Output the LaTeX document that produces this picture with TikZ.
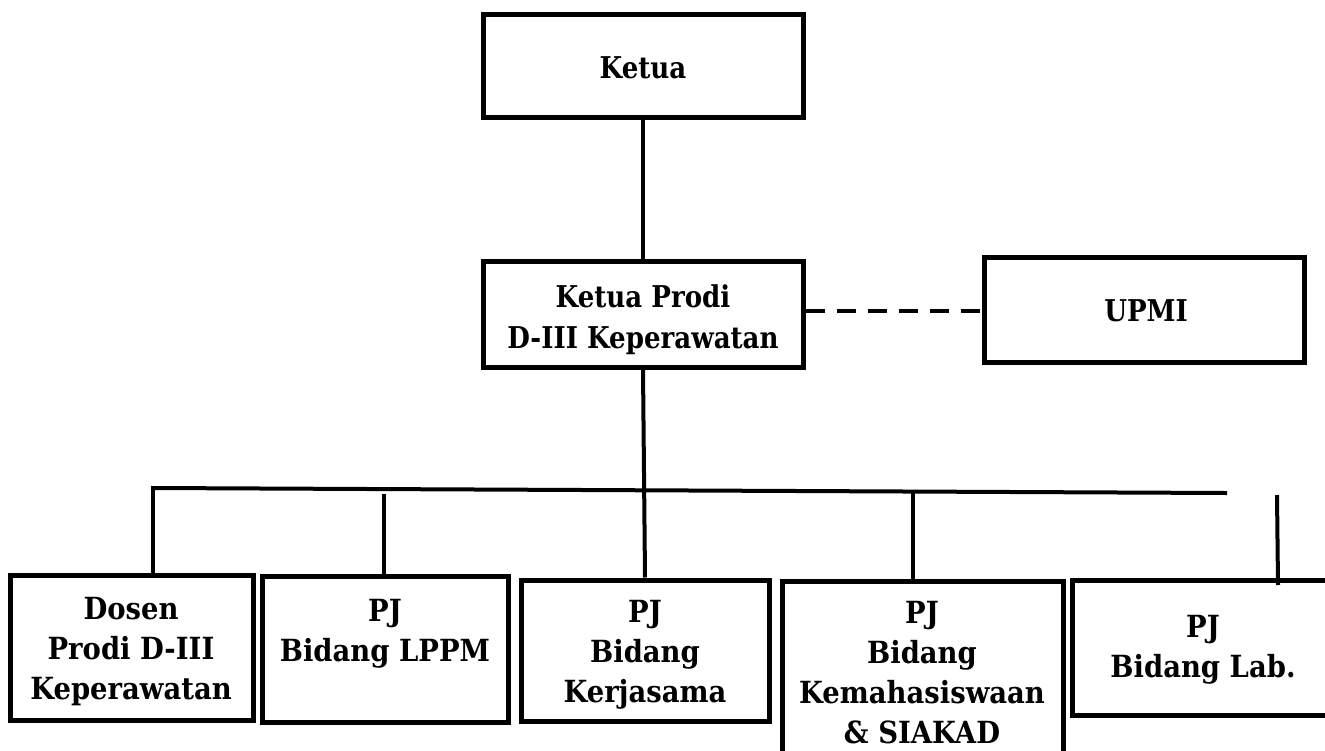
\documentclass[tikz,border=0pt]{standalone}
\usepackage{fontspec}
\setmainfont{DejaVu Serif}[FakeStretch=0.87]
\newfontfamily\widefont{DejaVu Serif}[FakeStretch=0.9]
\newcommand\stk[1]{\vtop{\baselineskip=40pt\lineskiplimit=-100pt\halign{\hfil##\hfil\cr#1\crcr}}}
\tikzset{
  box/.style={draw=black, line width=5pt, rectangle, inner sep=0pt},
  txt/.style={anchor=base, inner sep=0pt, font=\fontsize{30}{40}\selectfont\bfseries},
  btxt/.style={anchor=base, inner sep=0pt, font=\widefont\fontsize{30.5}{40}\selectfont\bfseries},
  conn/.style={draw=black, line width=4pt},
  dconn/.style={draw=black, line width=4pt, dash pattern=on 19pt off 12pt}
}
\begin{document}
\begin{tikzpicture}[x=1pt,y=-1pt]
\clip (0,0) rectangle (1325,751);
\fill[white] (0,0) rectangle (1325,751);
% boxes
\node[box, minimum width=320pt, minimum height=103pt] (ketua) at (643,66.5) {};
\node[box, minimum width=320pt, minimum height=105pt] (prodi) at (643,314.5) {};
\node[box, minimum width=320pt, minimum height=104pt] (upmi) at (1144,310) {};
\node[box, minimum width=243pt, minimum height=145pt] (dosen) at (131.5,647.5) {};
\node[box, minimum width=246pt, minimum height=146pt] (lppm) at (385,649) {};
\node[box, minimum width=248pt, minimum height=141pt] (kerja) at (645,650.5) {};
\node[box, minimum width=281pt, minimum height=220pt] (mhs) at (922.5,691) {};
\node[box, minimum width=280pt, minimum height=135pt] (lab) at (1212,647.5) {};
% texts
\node[txt] (ketua-t) at (643,79) {Ketua};
\node[txt] (prodi-t) at (643,308) {\stk{Ketua Prodi\cr D-III Keperawatan}};
\node[txt] (upmi-t) at (1146,322) {UPMI};
\node[btxt] (dosen-t) at (131,619) {\stk{Dosen\cr Prodi D-III\cr Keperawatan}};
\node[btxt] (lppm-t) at (385,621) {\stk{PJ\cr Bidang LPPM}};
\node[btxt] (kerja-t) at (645,622) {\stk{PJ\cr Bidang\cr Kerjasama}};
\node[btxt] (mhs-t) at (922,623) {\stk{PJ\cr Bidang\cr Kemahasiswaan\cr \& SIAKAD}};
\node[btxt] (lab-t) at (1203,637) {\stk{PJ\cr Bidang Lab.}};
% connector coordinates
\coordinate (hL) at (153,488);
\coordinate (hR) at (1225,493);
\coordinate (hM) at (913,492);
\coordinate (lppmTop) at (384,494);
\coordinate (labTop) at (1277,495);
\coordinate (labEnd) at (1278,585);
% connectors
\draw[conn] (ketua.south) -- (prodi.north);
\draw[conn] (prodi.south) -- (kerja.north);
\draw[dconn] ([yshift=3.5pt]prodi.east) -- ([yshift=3.5pt]prodi.east -| upmi.west);
\draw[conn, line cap=rect] (hL) -- (hR);
\draw[conn] (hL) -- (dosen.north -| hL);
\draw[conn] (lppmTop) -- (lppm.north -| lppmTop);
\draw[conn] (hM) -- (mhs.north -| hM);
\draw[conn] (labTop) -- (labEnd);
\end{tikzpicture}
\end{document}
